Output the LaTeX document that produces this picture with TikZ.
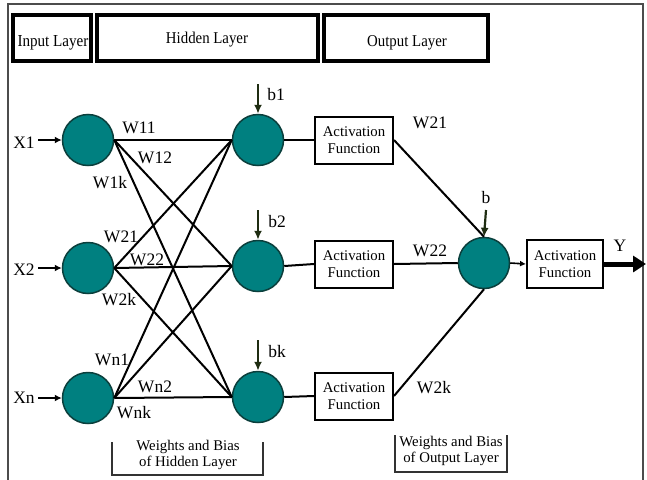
\documentclass[tikz,border=0pt]{standalone}
\usepackage{fontspec}
\setmainfont{Liberation Serif}
\newfontfamily\narrowserif[FakeStretch=0.9]{Liberation Serif}
\usetikzlibrary{arrows.meta}
\definecolor{neuron}{HTML}{008080}
\definecolor{neuronrim}{HTML}{0B3F3C}
\definecolor{biascol}{HTML}{1F2D12}
\tikzset{
  neuronnode/.style={circle, draw=neuronrim, line width=1.5pt, fill=neuron,
    minimum size=51pt, inner sep=0pt},
  actbox/.style={draw, line width=2pt, minimum width=78pt, minimum height=47pt,
    inner sep=0pt, align=center, font=\fontsize{14.8}{17}\selectfont},
  headbox/.style={draw, line width=3.6pt},
  headtext/.style={anchor=base, inner sep=0pt},
  wlabel/.style={anchor=base, inner sep=0pt, font=\fontsize{17.5}{19}\selectfont},
  wire/.style={line width=2pt},
  inarrow/.style={line width=2.2pt, -{Latex[length=7pt,width=7pt]}},
  biasarrow/.style={line width=2.2pt, draw=biascol, -{Latex[length=9pt,width=8pt]}},
  bracket/.style={line width=2pt, draw=black!80},
  notetext/.style={align=center, inner sep=0pt, font=\fontsize{14.8}{16.5}\selectfont}
}
\begin{document}
\begin{tikzpicture}[x=1pt,y=-1pt]
\useasboundingbox (0,0) rectangle (647,479);
\fill[white] (0,0) rectangle (647,479);

% outer frame
\draw[black!70, line width=1.2pt] (8,490) -- (8,4) -- (643,4) -- (643,490);

% layer headers
\draw[headbox] (13,15) rectangle (91,61);
\draw[headbox] (97,15) rectangle (318,61);
\draw[headbox] (324,15) rectangle (488,61);
\node[headtext, font=\narrowserif\fontsize{16.8}{20}\selectfont] (hin) at (53,46) {Input Layer};
\node[headtext, font=\narrowserif\fontsize{16.5}{19}\selectfont] (hhid) at (207,43) {Hidden Layer};
\node[headtext, font=\narrowserif\fontsize{16.5}{19}\selectfont] (hout) at (407,46) {Output Layer};

% input neurons
\node[neuronnode] (i1) at (88,140) {};
\node[neuronnode] (i2) at (88,268) {};
\node[neuronnode] (i3) at (88,398) {};

% hidden neurons
\node[neuronnode] (h1) at (258,140) {};
\node[neuronnode] (h2) at (258,266) {};
\node[neuronnode] (h3) at (258,397) {};

% output neuron
\node[neuronnode] (o) at (484,263) {};

% activation boxes
\node[actbox] (a1) at (354,140) {Activation\\Function};
\node[actbox] (a2) at (354,264) {Activation\\Function};
\node[actbox] (a3) at (354,396) {Activation\\Function};
\node[actbox, minimum width=76pt, minimum height=48pt] (ao) at (565,264) {Activation\\Function};

% input signals
\coordinate (x1s) at (38,140);
\coordinate (x2s) at (38,268);
\coordinate (x3s) at (38,398);
\draw[inarrow] (x1s) -- (i1.west);
\draw[inarrow] (x2s) -- (i2.west);
\draw[inarrow] (x3s) -- (i3.west);
\node[wlabel] (lx1) at (24,148) {X1};
\node[wlabel] (lx2) at (24,275) {X2};
\node[wlabel] (lx3) at (24,403) {Xn};

% input-to-hidden weights
\foreach \i in {1,2,3}{
  \foreach \h in {1,2,3}{
    \draw[wire] (i\i.east) -- (h\h.west);
  }
}
\node[wlabel] (w11) at (139,133) {W11};
\node[wlabel] (w12) at (155,163) {W12};
\node[wlabel] (w1k) at (110,188) {W1k};
\node[wlabel] (w21) at (121,242) {W21};
\node[wlabel] (w22) at (147,265) {W22};
\node[wlabel] (w2k) at (119,305) {W2k};
\node[wlabel] (wn1) at (112,365) {Wn1};
\node[wlabel] (wn2) at (155,392) {Wn2};
\node[wlabel] (wnk) at (134,418) {Wnk};

% hidden biases
\coordinate (b1s) at (258,84);
\coordinate (b2s) at (258,210);
\coordinate (b3s) at (258,340);
\draw[biasarrow] (b1s) -- (h1.north);
\draw[biasarrow] (b2s) -- (h2.north);
\draw[biasarrow] (b3s) -- (h3.north);
\node[wlabel] (lb1) at (276,100) {b1};
\node[wlabel] (lb2) at (277,227) {b2};
\node[wlabel] (lb3) at (277,357) {bk};

% hidden outputs into activations
\draw[wire] (h1.east) -- (a1.west);
\draw[wire] (h2.east) -- (a2.west);
\draw[wire] (h3.east) -- (a3.west);

% hidden-to-output weights
\draw[wire] (a1.east) -- (o.north);
\draw[wire] (a2.east) -- (o.west);
\draw[wire] (a3.east) -- (o.south);
\node[wlabel] (v21) at (430,128) {W21};
\node[wlabel] (v22) at (430,256) {W22};
\node[wlabel] (v2k) at (434,393) {W2k};

% output bias
\coordinate (bs) at (486,210);
\draw[biasarrow] (bs) -- (o.north);
\node[wlabel] (lb) at (486,203) {b};

% output activation and result
\draw[line width=1.6pt, -{Latex[length=6pt,width=6pt]}] (o.east) -- (ao.west);
\coordinate (yend) at (646,264);
\draw[line width=5pt, -{Triangle[length=13pt,width=16pt]}] (ao.east) -- (yend);
\node[wlabel] (ly) at (620,251) {Y};

% parameter brackets
\draw[bracket] (112,442) -- (112,475) -- (263,475) -- (263,442);
\node[notetext] (nh) at (188,455) {Weights and Bias\\of Hidden Layer};
\draw[bracket] (395,435) -- (395,472) -- (507,472) -- (507,435);
\node[notetext] (no) at (451,451) {Weights and Bias\\of Output Layer};
\end{tikzpicture}
\end{document}
